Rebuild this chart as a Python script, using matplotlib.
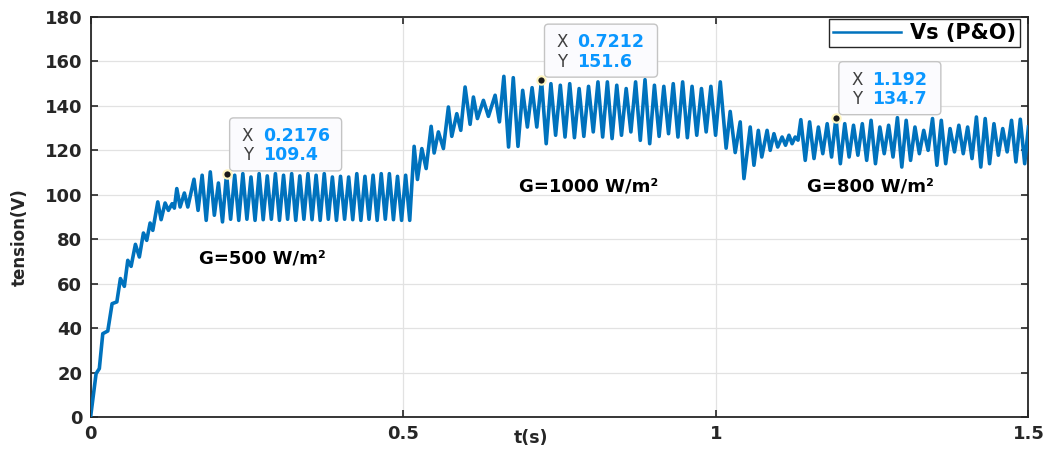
import numpy as np
import matplotlib
matplotlib.use("Agg")
import matplotlib.pyplot as plt
import matplotlib.transforms as mtransforms
from matplotlib.patches import FancyBboxPatch

# Start-up ramp (t in s, Vs in V)
rise_t = [0.0, 0.0088, 0.014, 0.0195, 0.0275, 0.0344, 0.042, 0.0477, 0.054,
          0.0595, 0.0648, 0.0717, 0.078, 0.0845, 0.0898, 0.0952, 0.0995,
          0.1075, 0.1128, 0.1192, 0.1245, 0.1304, 0.134, 0.1379, 0.1432,
          0.15, 0.1555]
rise_v = [0, 19.5, 21.8, 37.5, 38.7, 51, 51.8, 62.3, 58.8, 70.5, 67.8, 77.7,
          72, 82.8, 79.5, 87.3, 84, 96.8, 88.8, 96.3, 93, 96, 94, 102.8, 94.5,
          100.8, 94.5]

# G=500 W/m2 : steady oscillation (peaks / troughs)
t0_500 = 0.1654
per_500 = 0.01302
peaks_500 = [107.0, 108.8, 110.3, 105.3, 109.4, 108.8, 109.5, 108.0, 109.5,
             108.5, 109.5, 108.8, 109.5, 108.5, 109.5, 108.8, 109.5, 108.0,
             108.3, 108.0, 109.5, 108.3, 108.8, 109.5, 109.5, 108.3, 108.8]
troughs_500 = [93.0, 88.5, 90.8, 87.8, 89.0, 88.5, 89.0, 88.5, 88.8, 89.0,
               88.5, 89.0, 88.5, 89.0, 88.8, 88.5, 89.0, 88.5, 89.0, 88.8,
               88.5, 89.0, 88.5, 89.0, 88.8, 88.5, 88.5]

# step 500 -> 1000 W/m2
trans1_t = [0.5175, 0.5228, 0.5298, 0.5367, 0.5447, 0.5495, 0.5563, 0.5643,
            0.5723, 0.5777, 0.5857, 0.5921, 0.599, 0.607, 0.6123, 0.6187,
            0.6283, 0.6363, 0.647, 0.6539]
trans1_v = [121.8, 106.9, 120.8, 111.8, 130.8, 118.8, 128.3, 120.8, 139.5,
            126.3, 136.5, 129.0, 148.5, 131.7, 144.0, 134.3, 142.5, 135.3,
            144.8, 132.8]

# G=1000 W/m2
t0_1000 = 0.661
per_1000 = 0.01505
peaks_1000 = [153.3, 152.7, 147.0, 148.2, 151.6, 150.0, 149.3, 150.0, 147.8,
              148.8, 150.8, 150.8, 149.3, 147.8, 150.8, 151.8, 149.3, 148.8,
              150.0, 150.8, 148.8, 147.8, 148.8, 150.8]
troughs_1000 = [121.5, 121.8, 130.5, 130.5, 123.0, 126.8, 126.0, 125.7, 126.3,
                128.3, 126.0, 125.3, 126.8, 128.3, 124.5, 123.0, 126.3, 127.5,
                126.0, 125.7, 126.8, 128.3, 126.8]

# step 1000 -> 800 W/m2
trans2_t = [1.0165, 1.023, 1.031, 1.039, 1.045, 1.055, 1.061, 1.068, 1.0735,
            1.082, 1.087, 1.093, 1.099, 1.106, 1.1115, 1.117, 1.122, 1.127,
            1.1315]
trans2_v = [121.0, 137.5, 119.0, 132.8, 107.3, 130.5, 113.3, 129.0, 117.0,
            129.0, 120.0, 127.5, 121.5, 126.0, 122.3, 126.8, 123.0, 126.0,
            124.6]

# G=800 W/m2
t0_800 = 1.136
per_800 = 0.01404
peaks_800 = [133.8, 132.8, 130.5, 132.0, 134.7, 132.0, 131.3, 132.0, 133.5,
             130.5, 131.3, 134.7, 133.5, 130.5, 129.0, 134.3, 133.5, 129.8,
             131.3, 130.5, 135.0, 134.3, 132.0, 129.8, 133.5, 134.0]
troughs_800 = [115.5, 116.3, 118.5, 117.0, 114.0, 117.0, 117.8, 115.5, 114.0,
               118.5, 117.0, 112.5, 115.5, 118.5, 120.0, 113.3, 114.0, 119.3,
               118.5, 116.3, 112.5, 114.0, 117.8, 119.3, 114.8, 114.0]
end_t = [1.5]
end_v = [130.5]

# data tips shown on the figure
tip_x = [0.2176, 0.7212, 1.192]
tip_y = [109.4, 151.6, 134.7]
tip_xs = ['0.2176', '0.7212', '1.192']
tip_ys = ['109.4', '151.6', '134.7']

zones = ['G=500 W/m²', 'G=1000 W/m²', 'G=800 W/m²']
zone_t = [0.274, 0.796, 1.247]
zone_v = [71.4, 103.8, 103.8]


def oscillation(t0, period, peaks, troughs):
    t_pk = t0 + period*np.arange(len(peaks))
    t, v = [], []
    for i in range(len(peaks)):
        t.append(t_pk[i])
        v.append(peaks[i])
        if i < len(troughs):
            t.append(t_pk[i] + period/2)
            v.append(troughs[i])
    return t, v


t500, v500 = oscillation(t0_500, per_500, peaks_500, troughs_500)
t1000, v1000 = oscillation(t0_1000, per_1000, peaks_1000, troughs_1000)
t800, v800 = oscillation(t0_800, per_800, peaks_800, troughs_800)

t = rise_t + t500 + trans1_t + t1000 + trans2_t + t800 + end_t
v = rise_v + v500 + trans1_v + v1000 + trans2_v + v800 + end_v

dark = '#262626'
fig = plt.figure(figsize=(10.46, 4.54), dpi=100)
ax = fig.add_axes([0.0866, 0.0815, 0.8966, 0.881])

ax.plot(t, v, color='#0072BD', lw=2.6, label='Vs (P&O)', zorder=3,
        solid_joinstyle='round')
ax.set_xlim(0, 1.5)
ax.set_ylim(0, 180)
ax.set_xticks([0, 0.5, 1, 1.5])
ax.set_xticklabels(['0', '0.5', '1', '1.5'])
ax.set_yticks(range(0, 181, 20))
ax.grid(True, color='#e2e2e2', lw=0.9, zorder=0)
ax.tick_params(direction='in', top=True, right=True, length=5, width=1.2,
               labelsize=13, colors=dark, pad=6)
for lab in ax.get_xticklabels() + ax.get_yticklabels():
    lab.set_fontweight('bold')
for sp in ax.spines.values():
    sp.set_linewidth(1.3)
    sp.set_color(dark)

ax.set_xlabel('t(s)', fontweight='bold', fontsize=12.5, color=dark)
ax.xaxis.set_label_coords(0.47, -0.03)
ax.set_ylabel('tension(V)', fontweight='bold', fontsize=12, color=dark)
ax.yaxis.set_label_coords(-0.066, 0.45)

leg = ax.legend(loc='upper right', bbox_to_anchor=(0.991, 0.995),
                prop={'weight': 'bold', 'size': 15}, fancybox=False,
                edgecolor=dark, framealpha=1, borderaxespad=0,
                handlelength=3.3, borderpad=0.2, handletextpad=0.4)
leg.get_frame().set_linewidth(1.0)
leg.get_lines()[0].set_linewidth(1.8)

for name, zt, zv in zip(zones, zone_t, zone_v):
    ax.text(zt, zv, name, ha='center', va='center', fontweight='bold',
            fontsize=13, color='black')

# data tips
box_w = [112, 113, 102]
for x, y, xs, ys, w in zip(tip_x, tip_y, tip_xs, tip_ys, box_w):
    trans = mtransforms.Affine2D() + mtransforms.ScaledTranslation(x, y, ax.transData)
    box = FancyBboxPatch((3, 3), w, 53, boxstyle='round,pad=0,rounding_size=4',
                         fc='#fbfbfe', ec='#c4c4c4', lw=1.0, transform=trans,
                         clip_on=False, zorder=6)
    ax.add_patch(box)
    ax.text(21, 38, 'X', transform=trans, ha='center', va='center',
            fontsize=12, color='#404040', zorder=7)
    ax.text(21, 18.5, 'Y', transform=trans, ha='center', va='center',
            fontsize=12, color='#404040', zorder=7)
    ax.text(36, 38, xs, transform=trans, ha='left', va='center',
            fontsize=12.5, fontweight='bold', color='#0a97ff', zorder=7)
    ax.text(36, 18.5, ys, transform=trans, ha='left', va='center',
            fontsize=12.5, fontweight='bold', color='#0a97ff', zorder=7)
    ax.plot([x], [y], 'o', ms=6, mfc='#1a1a1a', mec='#fff6c0', mew=1.5,
            zorder=8, clip_on=False)

fig.savefig('out.png', dpi=100)
